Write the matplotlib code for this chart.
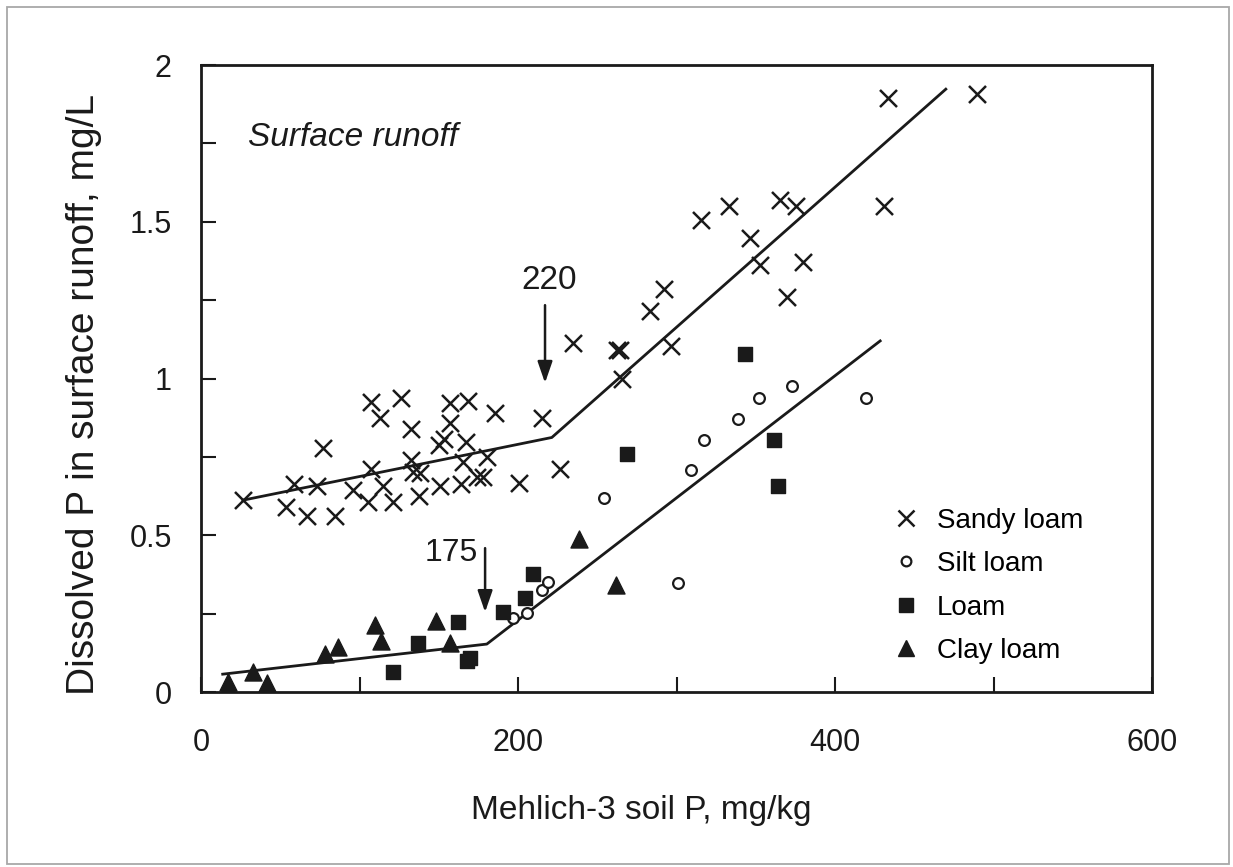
import matplotlib
matplotlib.use("Agg")
from matplotlib import pyplot as plt
from matplotlib.lines import Line2D
from matplotlib.patches import Rectangle

plt.rcParams["font.family"] = ["Liberation Sans", "DejaVu Sans"]

# soil test P (mg/kg) and dissolved P in runoff (mg/L)
sandy_x = [26.7, 53.6, 58.9, 66.7, 73.0, 77.2, 84.5, 96.1, 105.6, 107.1, 107.1, 112.9,
           114.6, 120.9, 126.0, 132.3, 132.3, 133.8, 138.2, 137.7, 150.8, 150.3, 153.5,
           157.1, 157.1, 163.8, 165.5, 167.0, 168.6, 173.9, 178.1, 180.6, 185.5, 200.8,
           215.0, 226.5, 234.5, 262.3, 264.4, 265.4, 283.3, 292.1, 296.3, 315.5, 333.3,
           346.4, 352.7, 365.3, 369.5, 375.4, 380.0, 430.5, 433.2, 489.4]
sandy_y = [0.612, 0.589, 0.663, 0.562, 0.658, 0.779, 0.562, 0.644, 0.607, 0.926, 0.711, 0.875,
           0.658, 0.605, 0.939, 0.838, 0.740, 0.702, 0.699, 0.626, 0.657, 0.788, 0.807,
           0.921, 0.857, 0.663, 0.735, 0.798, 0.928, 0.685, 0.685, 0.749, 0.889, 0.666,
           0.875, 0.710, 1.114, 1.091, 1.091, 0.997, 1.216, 1.286, 1.105, 1.506, 1.551,
           1.449, 1.362, 1.569, 1.261, 1.551, 1.371, 1.551, 1.894, 1.907]

silt_x = [197.0, 205.5, 215.0, 218.7, 254.4, 300.8, 309.1, 317.4, 339.0, 352.2, 372.9, 419.6]
silt_y = [0.235, 0.251, 0.325, 0.352, 0.618, 0.347, 0.708, 0.804, 0.870, 0.939, 0.976, 0.939]

loam_x = [120.9, 137.1, 162.3, 167.6, 169.7, 190.3, 204.4, 209.3, 268.6, 343.2, 361.5, 364.2]
loam_y = [0.063, 0.155, 0.224, 0.099, 0.107, 0.256, 0.301, 0.376, 0.758, 1.077, 0.804, 0.657]

clay_x = [17.2, 17.2, 33.0, 41.5, 78.2, 86.2, 109.8, 113.6, 148.3, 157.1, 238.7, 261.8]
clay_y = [0.017, 0.033, 0.065, 0.030, 0.120, 0.145, 0.214, 0.163, 0.227, 0.155, 0.487, 0.341]

# split-line fits (start, change point, end)
upper_fit_x = [26.5, 221.3, 469.8]
upper_fit_y = [0.612, 0.812, 1.923]
lower_fit_x = [13.7, 180.3, 428.4]
lower_fit_y = [0.057, 0.153, 1.120]

fig = plt.figure(figsize=(12.33, 8.67), dpi=100)
ax = fig.add_axes([0.163, 0.2018, 0.7715, 0.7232])

# outer grey frame of the figure
fig.patches.append(Rectangle((0.006, 0.003), 0.991, 0.989, transform=fig.transFigure,
                             fill=False, edgecolor="#a8a8a8", linewidth=1.3))

ax.plot(upper_fit_x, upper_fit_y, color="#1a1a1a", lw=2.0)
ax.plot(lower_fit_x, lower_fit_y, color="#1a1a1a", lw=2.0)

ax.scatter(sandy_x, sandy_y, marker="x", s=150, color="#1a1a1a", linewidths=1.8, zorder=3)
ax.scatter(silt_x, silt_y, marker="o", s=60, facecolors="white", edgecolors="#1a1a1a",
           linewidths=1.6, zorder=3)
ax.scatter(loam_x, loam_y, marker="s", s=110, color="#1a1a1a", zorder=3)
ax.scatter(clay_x, clay_y, marker="^", s=150, color="#1a1a1a", zorder=3)

arrow_style = dict(arrowstyle="-|>,head_length=1.3,head_width=0.45",
                   color="#1a1a1a", lw=1.8, shrinkA=0, shrinkB=0)
ax.annotate("", xy=(217, 0.986), xytext=(217, 1.234), arrowprops=arrow_style)
ax.text(219.6, 1.314, "220", fontsize=24, ha="center", va="center", color="#1a1a1a")
ax.annotate("", xy=(179.2, 0.255), xytext=(179.2, 0.459), arrowprops=arrow_style)
ax.text(174.8, 0.443, "175", fontsize=23, ha="right", va="center", color="#1a1a1a")

ax.text(29.7, 1.77, "Surface runoff", fontsize=24, style="italic", ha="left",
        va="center", color="#1a1a1a")

ax.set_xlim(0, 600)
ax.set_ylim(0, 2)
ax.set_xticks([0, 200, 400, 600])
ax.set_xticks([100, 300, 500], minor=True)
ax.set_yticks([0, 0.5, 1, 1.5, 2])
ax.set_yticklabels(["0", "0.5", "1", "1.5", "2"])
ax.set_yticks([0.25, 0.75, 1.25, 1.75], minor=True)
ax.tick_params(axis="both", which="both", direction="in", length=11, width=1.5,
               labelsize=22, colors="#1a1a1a")
ax.tick_params(axis="x", which="major", pad=26)
ax.tick_params(axis="y", which="major", pad=21)
for spine in ax.spines.values():
    spine.set_linewidth(2.0)
    spine.set_color("#1a1a1a")

ax.set_xlabel("Mehlich-3 soil P, mg/kg", fontsize=24, color="#1a1a1a")
ax.xaxis.set_label_coords(0.463, -0.165)
ax.set_ylabel("Dissolved P in surface runoff, mg/L", fontsize=28, color="#1a1a1a")
ax.yaxis.set_label_coords(-0.104, 0.474)

handles = [
    Line2D([], [], marker="x", ls="none", color="#1a1a1a", markersize=12, mew=1.8),
    Line2D([], [], marker="o", ls="none", markerfacecolor="white",
           markeredgecolor="#1a1a1a", markersize=7, mew=1.6),
    Line2D([], [], marker="s", ls="none", color="#1a1a1a", markersize=10),
    Line2D([], [], marker="^", ls="none", color="#1a1a1a", markersize=12),
]
labels = ["Sandy loam", "Silt loam", "Loam", "Clay loam"]
ax.legend(handles, labels, loc="upper left", bbox_to_anchor=(0.715, 0.312),
          frameon=False, fontsize=20, handlelength=1.0, handletextpad=0.6,
          labelspacing=0.63, borderaxespad=0)

fig.savefig("out.png", dpi=100)
